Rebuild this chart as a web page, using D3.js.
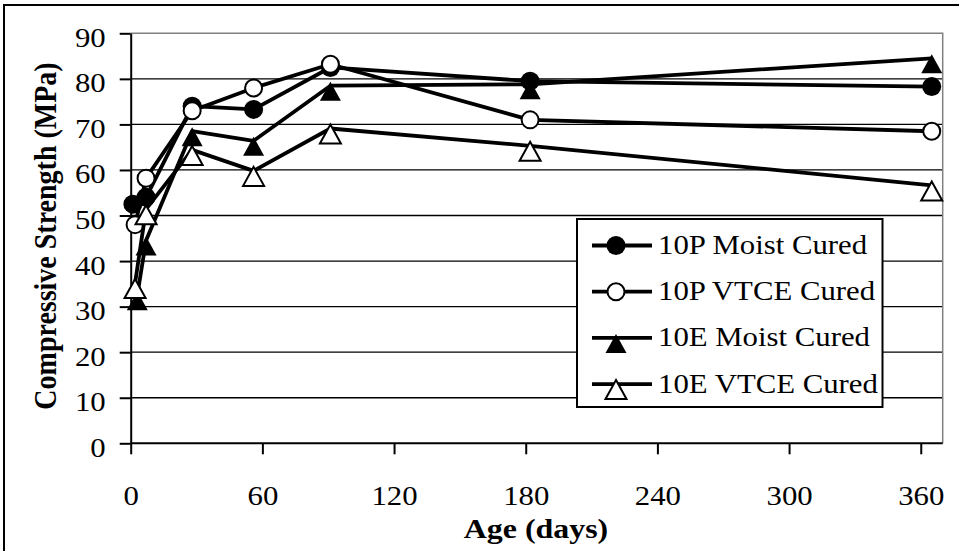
<!DOCTYPE html>
<html>
<head>
<meta charset="utf-8">
<script src="https://cdn.jsdelivr.net/npm/d3@7"></script>
<style>
  body { margin: 0; background: #fff; }
  svg text { font-family: "Times New Roman", "Liberation Serif", Tinos, Times, serif !important; fill: #000; }
</style>
</head>
<body>
<svg id="chart" width="959" height="551"></svg>
<script>
// Tick labels
var ageTicks = [0, 60, 120, 180, 240, 300, 360];
var strengthTicks = [0, 10, 20, 30, 40, 50, 60, 70, 80, 90];

// Series (age in days, strength in MPa)
var days10PMoist = [1, 7, 28, 56, 91, 182, 365];
var str10PMoist = [52.5, 54, 74, 73.3, 82.5, 79.5, 78.3];
var days10PVtce = [2, 7, 28, 56, 91, 182, 365];
var str10PVtce = [48, 58.2, 73, 78, 83.2, 71, 68.5];
var days10EMoist = [3, 7, 28, 56, 91, 182, 365];
var str10EMoist = [32.5, 44.5, 68.5, 66.4, 78.5, 78.8, 84.5];
var days10EVtce = [2, 7, 28, 56, 91, 182, 365];
var str10EVtce = [35.2, 51.4, 64.4, 59.8, 69.1, 65.3, 56.6];

var seriesNames = ["10P Moist Cured", "10P VTCE Cured", "10E Moist Cured", "10E VTCE Cured"];

var series = [
    { name: seriesNames[0], days: days10PMoist, values: str10PMoist, shape: "circle", fill: "#000" },
    { name: seriesNames[1], days: days10PVtce, values: str10PVtce, shape: "circle", fill: "#fff" },
    { name: seriesNames[2], days: days10EMoist, values: str10EMoist, shape: "triangle", fill: "#000" },
    { name: seriesNames[3], days: days10EVtce, values: str10EVtce, shape: "triangle", fill: "#fff" }
];

var svg = d3.select("#chart"),
    serif = "'Times New Roman', 'Liberation Serif', Tinos, serif",
    // the picture is a little wider than tall text would be
    stretch = 1.14,
    plotLeft = 130.7,
    plotRight = 942.7,
    plotTop = 33.3,
    plotBottom = 443.3;

var x = d3.scaleLinear().domain([0, 370]).range([plotLeft, plotRight]),
    y = d3.scaleLinear().domain([0, 90]).range([plotBottom, plotTop]);

// Outer frame (only top and left edges are inside the picture)
svg.append("path")
    .attr("d", "M4,560 L4,5 L970,5")
    .attr("fill", "none")
    .attr("stroke", "#000")
    .attr("stroke-width", 2);

// Horizontal gridlines
svg.append("g")
    .selectAll("line")
    .data(strengthTicks.filter(function (d) { return d > 0 && d < 90; }))
    .join("line")
    .attr("x1", plotLeft)
    .attr("x2", plotRight)
    .attr("y1", function (d) { return y(d); })
    .attr("y2", function (d) { return y(d); })
    .attr("stroke", "#000")
    .attr("stroke-width", 1.3);

// Grey top and right edges of the plot area
svg.append("path")
    .attr("d", "M" + plotLeft + "," + plotTop + " L" + plotRight + "," + plotTop + " L" + plotRight + "," + plotBottom)
    .attr("fill", "none")
    .attr("stroke", "#808080")
    .attr("stroke-width", 1.5);

// Y axis
var yAxis = svg.append("g")
    .attr("transform", "translate(" + plotLeft + ",0)")
    .attr("font-family", serif)
    .call(d3.axisLeft(y).tickValues(strengthTicks).tickSize(11).tickSizeOuter(0).tickFormat(d3.format("d")));
yAxis.attr("font-family", serif);
yAxis.select(".domain").attr("stroke-width", 2);
yAxis.selectAll(".tick line").attr("stroke-width", 2);
yAxis.selectAll(".tick text")
    .attr("x", -25 / stretch)
    .attr("dy", "0.48em")
    .attr("transform", "scale(" + stretch + ",1)")
    .style("font-family", serif)
    .style("font-size", "27px");

// X axis
var xAxis = svg.append("g")
    .attr("transform", "translate(0," + plotBottom + ")")
    .call(d3.axisBottom(x).tickValues(ageTicks).tickSize(11).tickSizeOuter(0).tickFormat(d3.format("d")));
xAxis.attr("font-family", serif);
xAxis.select(".domain").attr("stroke-width", 2);
xAxis.selectAll(".tick line").attr("stroke-width", 2);
xAxis.selectAll(".tick text")
    .attr("y", 52)
    .attr("dy", "0.35em")
    .attr("transform", "scale(" + stretch + ",1)")
    .style("font-family", serif)
    .style("font-size", "27px");
// domain line should run to the grey edge
xAxis.select(".domain").attr("d", "M" + plotLeft + ",0H" + plotRight);

// Axis titles
svg.append("text")
    .attr("transform", "translate(536,528) scale(" + stretch + ",1)")
    .attr("text-anchor", "middle")
    .attr("dy", "0.35em")
    .style("font-family", serif)
    .style("font-size", "28px")
    .style("font-weight", "bold")
    .text("Age (days)");

svg.append("text")
    .attr("transform", "translate(45,236) rotate(-90) scale(1," + stretch + ")")
    .attr("text-anchor", "middle")
    .attr("dy", "0.35em")
    .style("font-family", serif)
    .style("font-size", "28px")
    .style("font-weight", "bold")
    .text("Compressive Strength (MPa)");

// Marker drawing: triangles sit a little below their point, as in the picture
function drawMarker(g, shape, fill, cx, cy) {
    if (shape === "circle") {
        g.append("circle")
            .attr("cx", cx)
            .attr("cy", cy)
            .attr("r", fill === "#000" ? 9.5 : 8.5)
            .attr("fill", fill)
            .attr("stroke", "#000")
            .attr("stroke-width", fill === "#000" ? 0 : 2);
    } else {
        g.append("path")
            .attr("d", "M" + cx + "," + (cy - 4) + " L" + (cx + 10.5) + "," + (cy + 15) + " L" + (cx - 10.5) + "," + (cy + 15) + " Z")
            .attr("fill", fill)
            .attr("stroke", "#000")
            .attr("stroke-width", fill === "#000" ? 0 : 2)
            .attr("stroke-linejoin", "miter");
    }
}

var line = d3.line()
    .x(function (d) { return x(d[0]); })
    .y(function (d) { return y(d[1]); });

series.forEach(function (s) {
    var g = svg.append("g"),
        pts = s.days.map(function (d, i) { return [d, s.values[i]]; });
    g.append("path")
        .datum(pts)
        .attr("d", line)
        .attr("fill", "none")
        .attr("stroke", "#000")
        .attr("stroke-width", 3.8)
        .attr("stroke-linejoin", "round");
    pts.forEach(function (p) {
        drawMarker(g, s.shape, s.fill, x(p[0]), y(p[1]));
    });
});

// Legend
var legend = svg.append("g");
legend.append("rect")
    .attr("x", 577)
    .attr("y", 219)
    .attr("width", 305.5)
    .attr("height", 188)
    .attr("fill", "#fff")
    .attr("stroke", "#000")
    .attr("stroke-width", 2);

series.forEach(function (s, i) {
    var cy = 245.5 + i * 46.2;
    legend.append("line")
        .attr("x1", 592)
        .attr("x2", 652)
        .attr("y1", cy)
        .attr("y2", cy)
        .attr("stroke", "#000")
        .attr("stroke-width", 3.8);
    drawMarker(legend, s.shape, s.fill, 616, cy);
    legend.append("text")
        .attr("transform", "translate(658," + (cy + 8.5) + ") scale(" + stretch + ",1)")
        .style("font-family", serif)
        .style("font-size", "27px")
        .text(s.name);
});
</script>
</body>
</html>
